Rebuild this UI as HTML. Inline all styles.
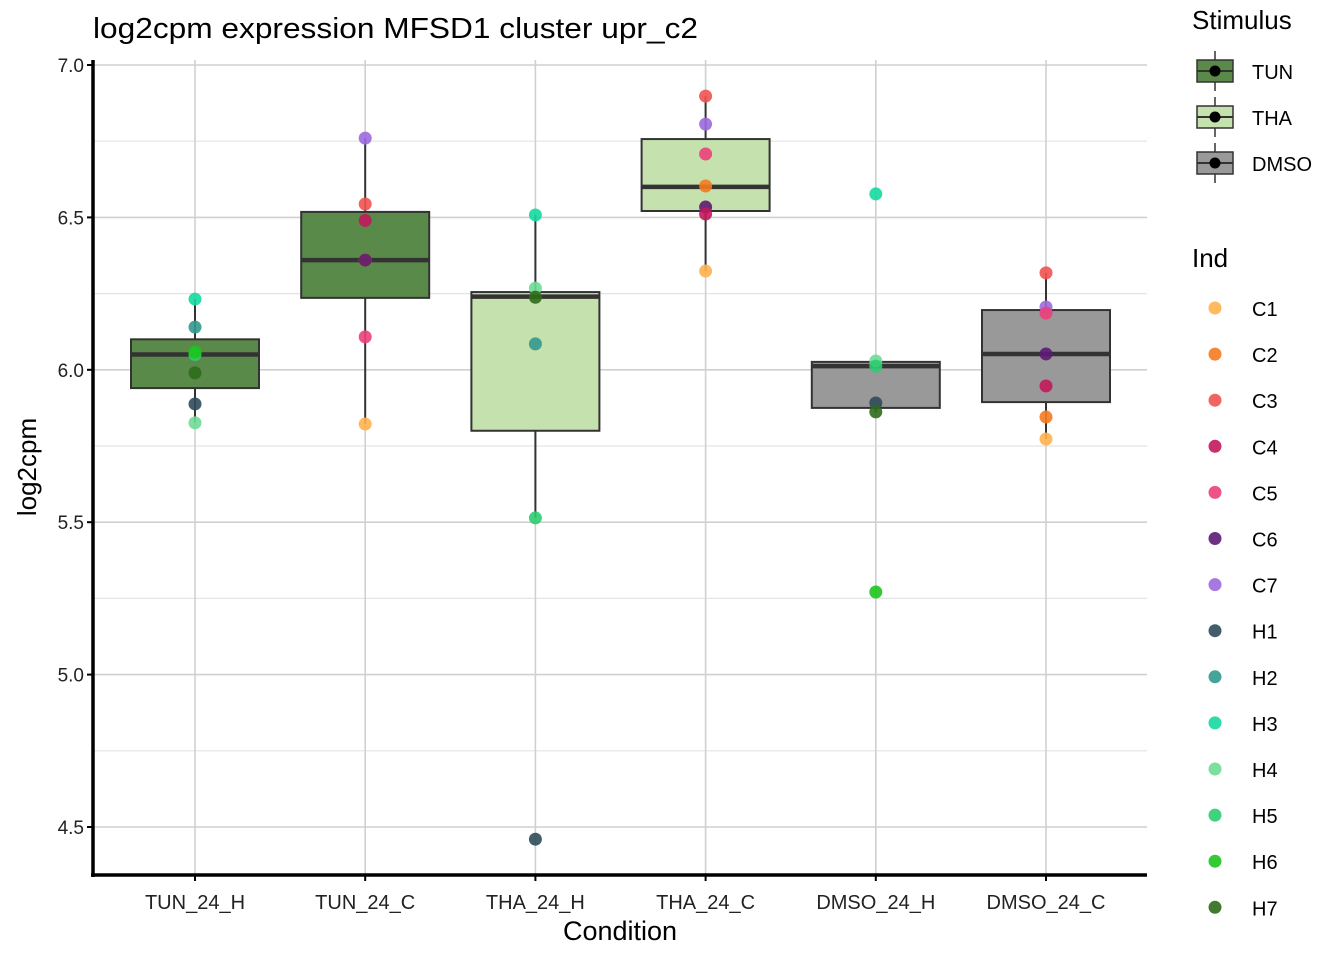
<!DOCTYPE html>
<html><head><meta charset="utf-8"><style>
body{margin:0;background:#fff;font-family:"Liberation Sans",Arial,sans-serif}
</style></head><body>
<svg id="chart" width="1344" height="960" xmlns="http://www.w3.org/2000/svg" font-family="Liberation Sans, Arial, sans-serif">
<text x="93" y="38" font-size="29" textLength="605" lengthAdjust="spacingAndGlyphs" fill="#000">log2cpm expression MFSD1 cluster upr_c2</text>
<g id="grid"></g><g id="boxes"></g><g id="pts"></g><g id="axes"></g><g id="legend"></g>
</svg>
<script>
const categories=["TUN_24_H","TUN_24_C","THA_24_H","THA_24_C","DMSO_24_H","DMSO_24_C"];
const stimulus=["TUN","TUN","THA","THA","DMSO","DMSO"];
const q1=[5.94,6.236,5.80,6.521,5.875,5.894];
const med=[6.05,6.36,6.24,6.60,6.012,6.052];
const q3=[6.10,6.518,6.255,6.757,6.026,6.196];
const wLo=[5.826,5.822,5.514,6.324,5.862,5.773];
const wHi=[6.232,6.76,6.508,6.898,6.029,6.318];
const ptCat=[0,0,0,0,0,0,0, 1,1,1,1,1,1,1, 2,2,2,2,2,2, 3,3,3,3,3,3,3, 4,4,4,4,4,4, 5,5,5,5,5,5,5];
const ptInd=["H3","H2","H5","H6","H7","H1","H4", "C7","C3","C4","C2","C6","C5","C1", "H3","H4","H7","H2","H5","H1", "C3","C7","C5","C2","C6","C4","C1", "H3","H4","H5","H1","H7","H6", "C3","C7","C5","C6","C4","C2","C1"];
const ptVal=[6.232,6.140,6.05,6.058,5.99,5.888,5.826, 6.76,6.544,6.49,6.36,6.36,6.108,5.822, 6.508,6.268,6.238,6.085,5.514,4.46, 6.898,6.806,6.708,6.603,6.534,6.511,6.324, 6.577,6.029,6.012,5.891,5.862,5.271, 6.318,6.206,6.186,6.052,5.947,5.845,5.773];
const yTicks=[4.5,5.0,5.5,6.0,6.5,7.0];
const stimNames=["TUN","THA","DMSO"];
const stimFill={"TUN":"#5a8a4a","THA":"#c5e1ad","DMSO":"#999999"};
const indNames=["C1","C2","C3","C4","C5","C6","C7","H1","H2","H3","H4","H5","H6","H7"];
const indCol={C1:"#ffb14e",C2:"#f47a1f",C3:"#ef5350",C4:"#c2185b",C5:"#ec407a",C6:"#5e1a74",C7:"#9c6ade",H1:"#2f4b5a",H2:"#32998f",H3:"#16d9a0",H4:"#6fdc95",H5:"#2ecc71",H6:"#1dc41d",H7:"#2e6b1a"};
const NS="http://www.w3.org/2000/svg";
const X0=93,X1=1147,YT=60,YB=875;
const y=v=>65+(7-v)*304.8;
const x=i=>195+i*170.2;
function mk(p,t,a){const e=document.createElementNS(NS,t);for(const k in a)e.setAttribute(k,a[k]);document.getElementById(p).appendChild(e);return e;}
for(let i=0;i<yTicks.length;i++){const l=mk("grid","line",{x1:X0,x2:X1,y1:y(yTicks[i]),y2:y(yTicks[i]),stroke:"#d0d0d0","stroke-width":1.6});


if(i<yTicks.length-1){const m=mk("grid","line",{x1:X0,x2:X1,y1:y(yTicks[i]+0.25),y2:y(yTicks[i]+0.25),stroke:"#e4e4e4","stroke-width":1.2});

}}
for(let i=0;i<categories.length;i++){const l=mk("grid","line",{x1:x(i),x2:x(i),y1:YT,y2:YB,stroke:"#d0d0d0","stroke-width":1.6});

}
for(let i=0;i<categories.length;i++){
const w=mk("boxes","line",{x1:x(i),x2:x(i),y1:y(wHi[i]),y2:y(wLo[i]),stroke:"#333","stroke-width":2});


const r=mk("boxes","rect",{x:x(i)-64,y:y(q3[i]),width:128,height:y(q1[i])-y(q3[i]),fill:stimFill[stimulus[i]],stroke:"#333","stroke-width":2});


const m=mk("boxes","line",{x1:x(i)-64,x2:x(i)+64,y1:y(med[i]),y2:y(med[i]),stroke:"#333","stroke-width":4.5});

}
for(let k=0;k<ptVal.length;k++){const c=mk("pts","circle",{cx:x(ptCat[k]),cy:y(ptVal[k]),r:6.5,fill:indCol[ptInd[k]],"fill-opacity":0.9});

}
let a=mk("axes","line",{x1:X0,x2:X0,y1:YT,y2:YB+2,stroke:"#000","stroke-width":3.5});


a=mk("axes","line",{x1:X0-2,x2:X1,y1:YB,y2:YB,stroke:"#000","stroke-width":3.5});


for(const v of yTicks){const t=mk("axes","line",{x1:X0-6,x2:X0,y1:y(v),y2:y(v),stroke:"#000","stroke-width":2});


const tx=mk("axes","text",{x:X0-9,y:y(v)+7,"text-anchor":"end","font-size":19,fill:"#222"});tx.textContent=v.toFixed(1);

}
for(let i=0;i<categories.length;i++){const t=mk("axes","line",{x1:x(i),x2:x(i),y1:YB,y2:YB+6,stroke:"#000","stroke-width":2});


const tx=mk("axes","text",{x:x(i),y:909,"text-anchor":"middle","font-size":20,fill:"#222"});tx.textContent=categories[i];

}
let tt=mk("axes","text",{x:620,y:940,"text-anchor":"middle","font-size":27,fill:"#000"});tt.textContent="Condition";


tt=mk("axes","text",{x:36,y:467,"text-anchor":"middle","font-size":26,fill:"#000",transform:"rotate(-90 36 467)"});tt.textContent="log2cpm";


tt=mk("legend","text",{x:1192,y:29,"font-size":26,fill:"#000"});tt.textContent="Stimulus";


for(let i=0;i<stimNames.length;i++){const cy=71+i*46;
const g=mk("legend","g",{});


const mkg=(t,a)=>{const e=document.createElementNS(NS,t);for(const k in a)e.setAttribute(k,a[k]);g.appendChild(e);return e;};
mkg("line",{x1:1215,x2:1215,y1:cy-20,y2:cy+20,stroke:"#333","stroke-width":1.5});
mkg("rect",{x:1197,y:cy-11,width:36,height:22,fill:stimFill[stimNames[i]],stroke:"#333","stroke-width":1.5});
mkg("line",{x1:1197,x2:1233,y1:cy,y2:cy,stroke:"#333","stroke-width":2});
mkg("circle",{cx:1215,cy:cy,r:5.5,fill:"#000"});
const t=mkg("text",{x:1252,y:cy+8,"font-size":20,fill:"#000"});t.textContent=stimNames[i];}
tt=mk("legend","text",{x:1192,y:267,"font-size":26,fill:"#000"});tt.textContent="Ind";


for(let i=0;i<indNames.length;i++){const cy=308+i*46.1;
const c=mk("legend","circle",{cx:1215,cy:cy,r:6.5,fill:indCol[indNames[i]],"fill-opacity":0.9});


const t=mk("legend","text",{x:1252,y:cy+8,"font-size":20,fill:"#000"});t.textContent=indNames[i];

}
</script>
</body></html>
